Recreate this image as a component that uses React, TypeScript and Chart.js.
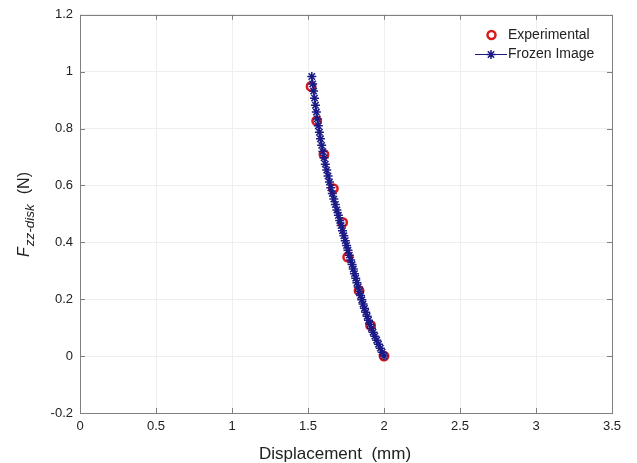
import { useEffect, useRef } from "react";
import { Chart, registerables } from "chart.js";

Chart.register(...registerables);

// ---- data ----
const expDisp = [1.52, 1.557, 1.605, 1.667, 1.728, 1.761, 1.836, 1.912, 2.0];
const expForce = [0.948, 0.827, 0.709, 0.589, 0.47, 0.348, 0.23, 0.108, 0.0];

const frozenDisp = [
  1.525, 1.531, 1.537, 1.543, 1.549, 1.555, 1.561, 1.568, 1.575, 1.582,
  1.59, 1.598, 1.606, 1.614, 1.623, 1.632, 1.641, 1.65, 1.66, 1.67,
  1.68, 1.69, 1.7, 1.709, 1.718, 1.727, 1.736, 1.745, 1.754, 1.763,
  1.772, 1.781, 1.79, 1.798, 1.806, 1.814, 1.822, 1.83, 1.838, 1.846,
  1.854, 1.862, 1.871, 1.88, 1.889, 1.898, 1.907, 1.917, 1.928, 1.94,
  1.952, 1.964, 1.976, 1.988, 2.0,
];
const frozenForce = [
  0.983, 0.957, 0.932, 0.907, 0.882, 0.858, 0.834, 0.81, 0.787, 0.764,
  0.741, 0.719, 0.697, 0.675, 0.654, 0.633, 0.612, 0.592, 0.572, 0.552,
  0.533, 0.514, 0.495, 0.477, 0.459, 0.441, 0.423, 0.406, 0.389, 0.372,
  0.355, 0.338, 0.322, 0.306, 0.29, 0.274, 0.258, 0.243, 0.228, 0.213,
  0.198, 0.183, 0.168, 0.154, 0.14, 0.126, 0.112, 0.098, 0.084, 0.07,
  0.056, 0.042, 0.028, 0.014, 0.0,
];

const xTickValues = [0, 0.5, 1, 1.5, 2, 2.5, 3, 3.5];
const yTickValues = [-0.2, 0, 0.2, 0.4, 0.6, 0.8, 1, 1.2];

const seriesNames = ["Experimental", "Frozen Image"];
const xTitle = "Displacement  (mm)";
const yTitleMain = "F";
const yTitleSub = "zz-disk";
const yTitleUnit = "(N)";

const RED = "#d81c1c";
const BLUE = "#1a1a86";
const TEXT = "#222222";
const AXIS = "#808080";
const FONT = '"Liberation Sans", Arial, sans-serif';

const decorPlugin = {
  id: "decor",
  afterDatasetsDraw(chart: any) {
    const { ctx, chartArea: a, scales } = chart;
    const xs = scales.x;
    const ys = scales.y;
    ctx.save();
    ctx.strokeStyle = AXIS;
    ctx.lineWidth = 1;
    ctx.strokeRect(Math.round(a.left) + 0.5, Math.round(a.top) + 0.5, Math.round(a.right - a.left), Math.round(a.bottom - a.top));
    ctx.beginPath();
    const tl = 5;
    for (const v of xTickValues) {
      const px = Math.round(xs.getPixelForValue(v)) + 0.5;
      ctx.moveTo(px, a.bottom);
      ctx.lineTo(px, a.bottom - tl);
      ctx.moveTo(px, a.top);
      ctx.lineTo(px, a.top + tl);
    }
    for (const v of yTickValues) {
      const py = Math.round(ys.getPixelForValue(v)) + 0.5;
      ctx.moveTo(a.left, py);
      ctx.lineTo(a.left + tl, py);
      ctx.moveTo(a.right, py);
      ctx.lineTo(a.right - tl, py);
    }
    ctx.stroke();
    ctx.restore();
  },
  afterDraw(chart: any) {
    const { ctx } = chart;
    ctx.save();
    ctx.fillStyle = TEXT;
    // x title
    ctx.font = `17px ${FONT}`;
    ctx.textAlign = "left";
    ctx.textBaseline = "alphabetic";
    ctx.fillText(xTitle, 259, 458.5);

    // y title (rotated, with subscript)
    ctx.translate(29, 257);
    ctx.rotate(-Math.PI / 2);
    ctx.font = `italic 16px ${FONT}`;
    ctx.fillText(yTitleMain, 0, 0);
    let w = ctx.measureText(yTitleMain).width;
    ctx.font = `italic 13.5px ${FONT}`;
    ctx.fillText(yTitleSub, w + 1, 5);
    w += 1 + ctx.measureText(yTitleSub).width;
    ctx.font = `16px ${FONT}`;
    ctx.fillText(yTitleUnit, w + 10, 0);
    ctx.restore();

    // legend
    ctx.save();
    ctx.font = `14px ${FONT}`;
    ctx.fillStyle = TEXT;
    ctx.textAlign = "left";
    ctx.textBaseline = "middle";
    ctx.strokeStyle = RED;
    ctx.lineWidth = 2.5;
    ctx.beginPath();
    ctx.arc(491.5, 35, 4, 0, Math.PI * 2);
    ctx.stroke();
    ctx.fillText(seriesNames[0], 508, 35.5);

    ctx.strokeStyle = BLUE;
    ctx.lineWidth = 1;
    ctx.beginPath();
    ctx.moveTo(475, 54.5);
    ctx.lineTo(507, 54.5);
    ctx.stroke();
    ctx.lineWidth = 1.5;
    const cx = 491, cy = 54.5, r = 4.5;
    ctx.beginPath();
    for (let k = 0; k < 4; k++) {
      const ang = (k * Math.PI) / 4;
      ctx.moveTo(cx - r * Math.cos(ang), cy - r * Math.sin(ang));
      ctx.lineTo(cx + r * Math.cos(ang), cy + r * Math.sin(ang));
    }
    ctx.stroke();
    ctx.fillText(seriesNames[1], 508, 54.5);
    ctx.restore();
  },
};

export default function App() {
  const ref = useRef<HTMLCanvasElement | null>(null);

  useEffect(() => {
    if (!ref.current) return;
    const chart = new Chart(ref.current, {
      type: "scatter",
      data: {
        datasets: [
          {
            label: seriesNames[0],
            data: expDisp.map((x, i) => ({ x, y: expForce[i] })),
            showLine: false,
            pointStyle: "circle",
            pointRadius: 4.2,
            pointBorderWidth: 2.5,
            pointBorderColor: RED,
            pointBackgroundColor: "rgba(0,0,0,0)",
            order: 2,
          },
          {
            label: seriesNames[1],
            data: frozenDisp.map((x, i) => ({ x, y: frozenForce[i] })),
            showLine: true,
            borderColor: BLUE,
            borderWidth: 1.2,
            pointStyle: "star",
            pointRadius: 4.5,
            pointBorderWidth: 1.5,
            pointBorderColor: BLUE,
            pointBackgroundColor: BLUE,
            order: 1,
          },
        ],
      },
      options: {
        responsive: false,
        animation: false,
        events: [],
        layout: { padding: { top: 11, right: 25, left: 0, bottom: 0 } },
        plugins: {
          legend: { display: false },
          tooltip: { enabled: false },
          title: { display: false },
        },
        scales: {
          x: {
            type: "linear",
            min: 0,
            max: 3.5,
            afterFit: (s: any) => {
              s.height = 50;
            },
            afterBuildTicks: (s: any) => {
              s.ticks = xTickValues.map((v) => ({ value: v }));
            },
            ticks: {
              padding: 6,
              color: TEXT,
              font: { family: FONT, size: 13 },
              maxRotation: 0,
              callback: (v: any) => String(Math.round(Number(v) * 10) / 10),
            },
            grid: { color: "#efefef", lineWidth: 1, drawTicks: false },
            border: { display: false },
          },
          y: {
            type: "linear",
            min: -0.2,
            max: 1.2,
            afterFit: (s: any) => {
              s.width = 80;
            },
            afterBuildTicks: (s: any) => {
              s.ticks = yTickValues.map((v) => ({ value: v }));
            },
            ticks: {
              padding: 7,
              color: TEXT,
              font: { family: FONT, size: 13 },
              callback: (v: any) => String(Math.round(Number(v) * 10) / 10),
            },
            grid: { color: "#efefef", lineWidth: 1, drawTicks: false },
            border: { display: false },
          },
        },
      },
      plugins: [decorPlugin],
    });
    return () => chart.destroy();
  }, []);

  return (
    <div style={{ position: "fixed", left: 0, top: 0, width: 637, height: 463, background: "#fff" }}>
      <canvas ref={ref} width={637} height={463} style={{ width: 637, height: 463, display: "block" }} />
    </div>
  );
}
